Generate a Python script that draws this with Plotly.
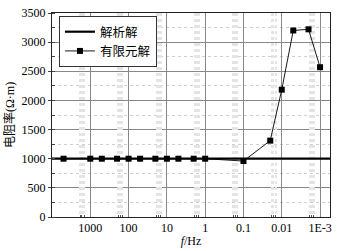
import plotly.graph_objects as go

freq_analytic = [10000, 0.00055]
rho_analytic = [1000, 1000]

freq_fem = [5000, 1000, 500, 200, 100, 50, 20, 10, 5, 2, 1, 0.1, 0.02, 0.01, 0.005, 0.002, 0.001]
rho_fem = [1000, 1000, 1000, 1000, 1000, 1000, 1000, 1000, 1000, 1000, 1000, 960, 1310, 2185, 3200, 3220, 2570]

x_tickvals = [1000, 100, 10, 1, 0.1, 0.01, 0.001]
x_ticktext = ["1000", "100", "10", "1", "0.1", "0.01", "1E-3"]
y_tickvals = [0, 500, 1000, 1500, 2000, 2500, 3000, 3500]

band_vals = []
for k in range(-4, 4):
    for m in (1.45, 1.65, 1.85):
        band_vals.append(m * 10 ** k)

fig = go.Figure()
fig.add_trace(go.Scatter(x=freq_analytic, y=rho_analytic, mode="lines", name="解析解",
                         line=dict(color="black", width=2.2)))
fig.add_trace(go.Scatter(x=freq_fem, y=rho_fem, mode="lines+markers", name="有限元解",
                         line=dict(color="black", width=0.9),
                         marker=dict(symbol="square", size=6, color="black")))
fig.add_trace(go.Scatter(x=freq_analytic, y=rho_analytic, xaxis="x2", mode="lines",
                         line=dict(width=0), opacity=0, showlegend=False, hoverinfo="skip"))

font_serif = "Liberation Serif, Times New Roman, serif"
fig.update_layout(
    width=346, height=251,
    margin=dict(l=52, r=16, t=13, b=34),
    paper_bgcolor="white", plot_bgcolor="white",
    font=dict(family=font_serif, size=12, color="black"),
    showlegend=True,
    legend=dict(x=0.025, y=0.985, xanchor="left", yanchor="top",
                bordercolor="#333", borderwidth=1, bgcolor="white",
                font=dict(family="Noto Sans CJK SC, sans-serif", size=12.5),
                tracegroupgap=0, itemwidth=30),
    xaxis=dict(type="log", range=[4, -3.26], tickvals=x_tickvals, ticktext=x_ticktext,
               automargin=False,
               showgrid=True, gridcolor="#888", gridwidth=1,
               showline=True, linecolor="#222", linewidth=1, mirror=True,
               ticks="", zeroline=False,
               title=dict(text="<i>f</i>/Hz", standoff=2,
                          font=dict(family=font_serif, size=12)),
               tickfont=dict(family=font_serif, size=12)),
    xaxis2=dict(type="log", range=[4, -3.26], overlaying="x", side="bottom",
                tickvals=band_vals, showticklabels=False, automargin=False,
                showgrid=True, gridcolor="#e4e4e4", gridwidth=2, griddash="dot",
                ticks="inside", ticklen=2, tickcolor="#555",
                showline=False, zeroline=False),
    yaxis=dict(range=[0, 3500], tickvals=y_tickvals,
               automargin=False,
               showgrid=True, gridcolor="#888", gridwidth=1,
               showline=True, linecolor="#222", linewidth=1, mirror=True,
               ticks="outside", ticklen=3, zeroline=False,
               minor=dict(dtick=250, showgrid=True, gridcolor="#cfcfcf",
                          griddash="dot", ticks="inside", ticklen=3, tickcolor="#444"),
               title=dict(text="电阻率<span style=\"font-family:Liberation Serif\">(Ω·m)</span>",
                          standoff=4,
                          font=dict(family="Noto Sans CJK SC, sans-serif", size=12)),
               tickfont=dict(family=font_serif, size=12)),
)

fig.write_html("out.html", config={"displayModeBar": False},
               post_script="document.body.style.margin='0';document.body.style.overflow='hidden';")
